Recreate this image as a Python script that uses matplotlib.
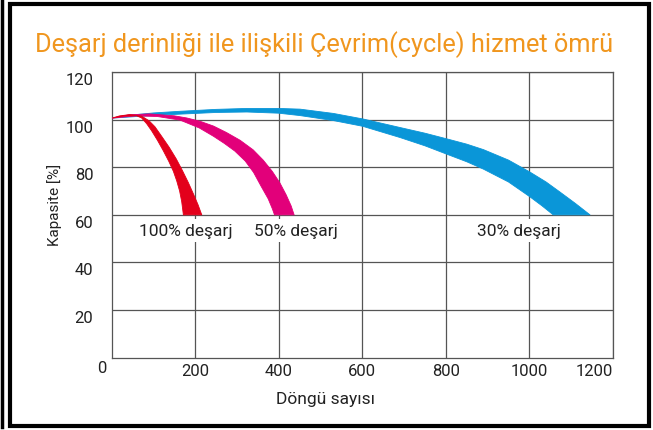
import matplotlib.pyplot as plt
from matplotlib.patches import Rectangle
from matplotlib.transforms import ScaledTranslation

plt.rcParams['font.family'] = ['Roboto', 'DejaVu Sans']

# band edges: outer (upper/right) edge and inner (lower/left) edge
red_outer_x = [0, 20, 44, 72, 90, 104, 120, 138, 155, 170, 184, 196, 207, 216]
red_outer_y = [100.6, 101.6, 102.1, 101.5, 99.5, 97, 93, 88.4, 83.5, 78.5, 73.5, 68.8, 64.3, 60]
red_inner_x = [0, 30, 60, 72, 84, 96, 110, 124, 137, 148, 156, 163, 168, 172]
red_inner_y = [100.6, 101.5, 101.6, 100.7, 98.3, 95.3, 91.3, 86.9, 82.5, 78.3, 74.3, 70, 65.5, 60]

mag_outer_x = [0, 40, 90, 150, 180, 212, 244, 275, 308, 339, 363, 385, 403, 418, 430, 437]
mag_outer_y = [100.6, 102, 102.4, 101.6, 100.7, 99.3, 97.3, 94.6, 91.3, 87.3, 83, 78.2, 73.4, 68.4, 63.7, 60]
mag_inner_x = [0, 60, 110, 164, 210, 244, 270, 295, 320, 340, 358, 375, 385, 390]
mag_inner_y = [100.6, 101.6, 101.3, 99.8, 96.5, 93, 90, 86.8, 82.6, 77.8, 72, 66.7, 62.5, 60]

blue_outer_x = [0, 40, 100, 164, 250, 324, 400, 451, 531, 601, 690, 750, 805, 850, 890, 950,
                1001, 1040, 1073, 1110, 1145]
blue_outer_y = [100.6, 101.8, 102.8, 103.5, 104.3, 104.7, 104.7, 104.4, 102.6, 100.3, 96.7, 94.3,
                91.8, 89.7, 87.4, 83, 78, 73.8, 69.6, 64.8, 60]
blue_inner_x = [0, 60, 164, 250, 324, 400, 451, 531, 601, 690, 750, 802, 850, 890, 950, 1001, 1030, 1057]
blue_inner_y = [100.6, 101.3, 102.3, 103, 103.2, 102.7, 101.7, 99.6, 97.2, 92.5, 89, 85.5, 82.3, 79.2,
                73.8, 67.6, 63.8, 60]

labels = ['100% deşarj', '50% deşarj', '30% deşarj']
label_x = [179, 442, 976]
label_y = 53.3

x_ticks = [200, 400, 600, 800, 1000, 1200]
y_ticks = [20, 40, 60, 80, 100, 120]

fig = plt.figure(figsize=(6.53, 4.31), dpi=100)
ax = fig.add_axes([111.5 / 653, 1 - 358.7 / 431, 501.5 / 653, 285.7 / 431])


def band(xo, yo, xi, yi, color):
    xs = xo + xi[::-1]
    ys = yo + yi[::-1]
    ax.fill(xs, ys, color=color, lw=0.6, ec=color, joinstyle='round', zorder=3)


band(blue_outer_x, blue_outer_y, blue_inner_x, blue_inner_y, '#0a96d8')
band(mag_outer_x, mag_outer_y, mag_inner_x, mag_inner_y, '#e2007a')
band(red_outer_x, red_outer_y, red_inner_x, red_inner_y, '#e3001b')

ax.set_xlim(0, 1200)
ax.set_ylim(0, 120)
ax.set_xticks(x_ticks)
ax.set_yticks(y_ticks)
ax.grid(True, color='#555555', lw=0.9)
ax.set_axisbelow(True)
for s in ax.spines.values():
    s.set_color('#555555')
    s.set_linewidth(0.9)
ax.tick_params(length=0, labelsize=12, colors='#222222')
ax.tick_params(axis='y', pad=13)
ax.tick_params(axis='x', pad=4)
for lab in ax.get_yticklabels():
    lab.set_transform(lab.get_transform() + ScaledTranslation(0, -0.06, fig.dpi_scale_trans))
ax.get_xticklabels()[-1].set_horizontalalignment('right')

ax.annotate('0', (0, 0), xytext=(-7, -7), textcoords='offset points',
            ha='center', va='center', fontsize=12, color='#222222')

for t, x in zip(labels, label_x):
    ax.text(x, label_y, t, ha='center', va='center', fontsize=12.5, color='#222222',
            bbox=dict(fc='white', ec='none', pad=3), zorder=4)

fig.text(35 / 653, 1 - 45 / 431, 'Deşarj derinliği ile ilişkili Çevrim(cycle) hizmet ömrü',
         ha='left', va='center', fontsize=18.3, color='#f0961e')
fig.text(325 / 653, 1 - 400 / 431, 'Döngü sayısı', ha='center', va='center', fontsize=12.5, color='#222222')
fig.text(55 / 653, 1 - 205 / 431, 'Kapasite [%]', ha='center', va='center', rotation=90,
         fontsize=11, color='#222222')

# outer black frame
fig.patches.append(Rectangle((10 / 653, 1 - 427 / 431), 639 / 653, 422 / 431, transform=fig.transFigure,
                             fill=False, ec='black', lw=3))
fig.add_artist(plt.Line2D([1.5 / 653, 1.5 / 653], [1 - 428 / 431, 1], transform=fig.transFigure,
                          color='black', lw=2.5))

fig.savefig('out.png', dpi=100)
